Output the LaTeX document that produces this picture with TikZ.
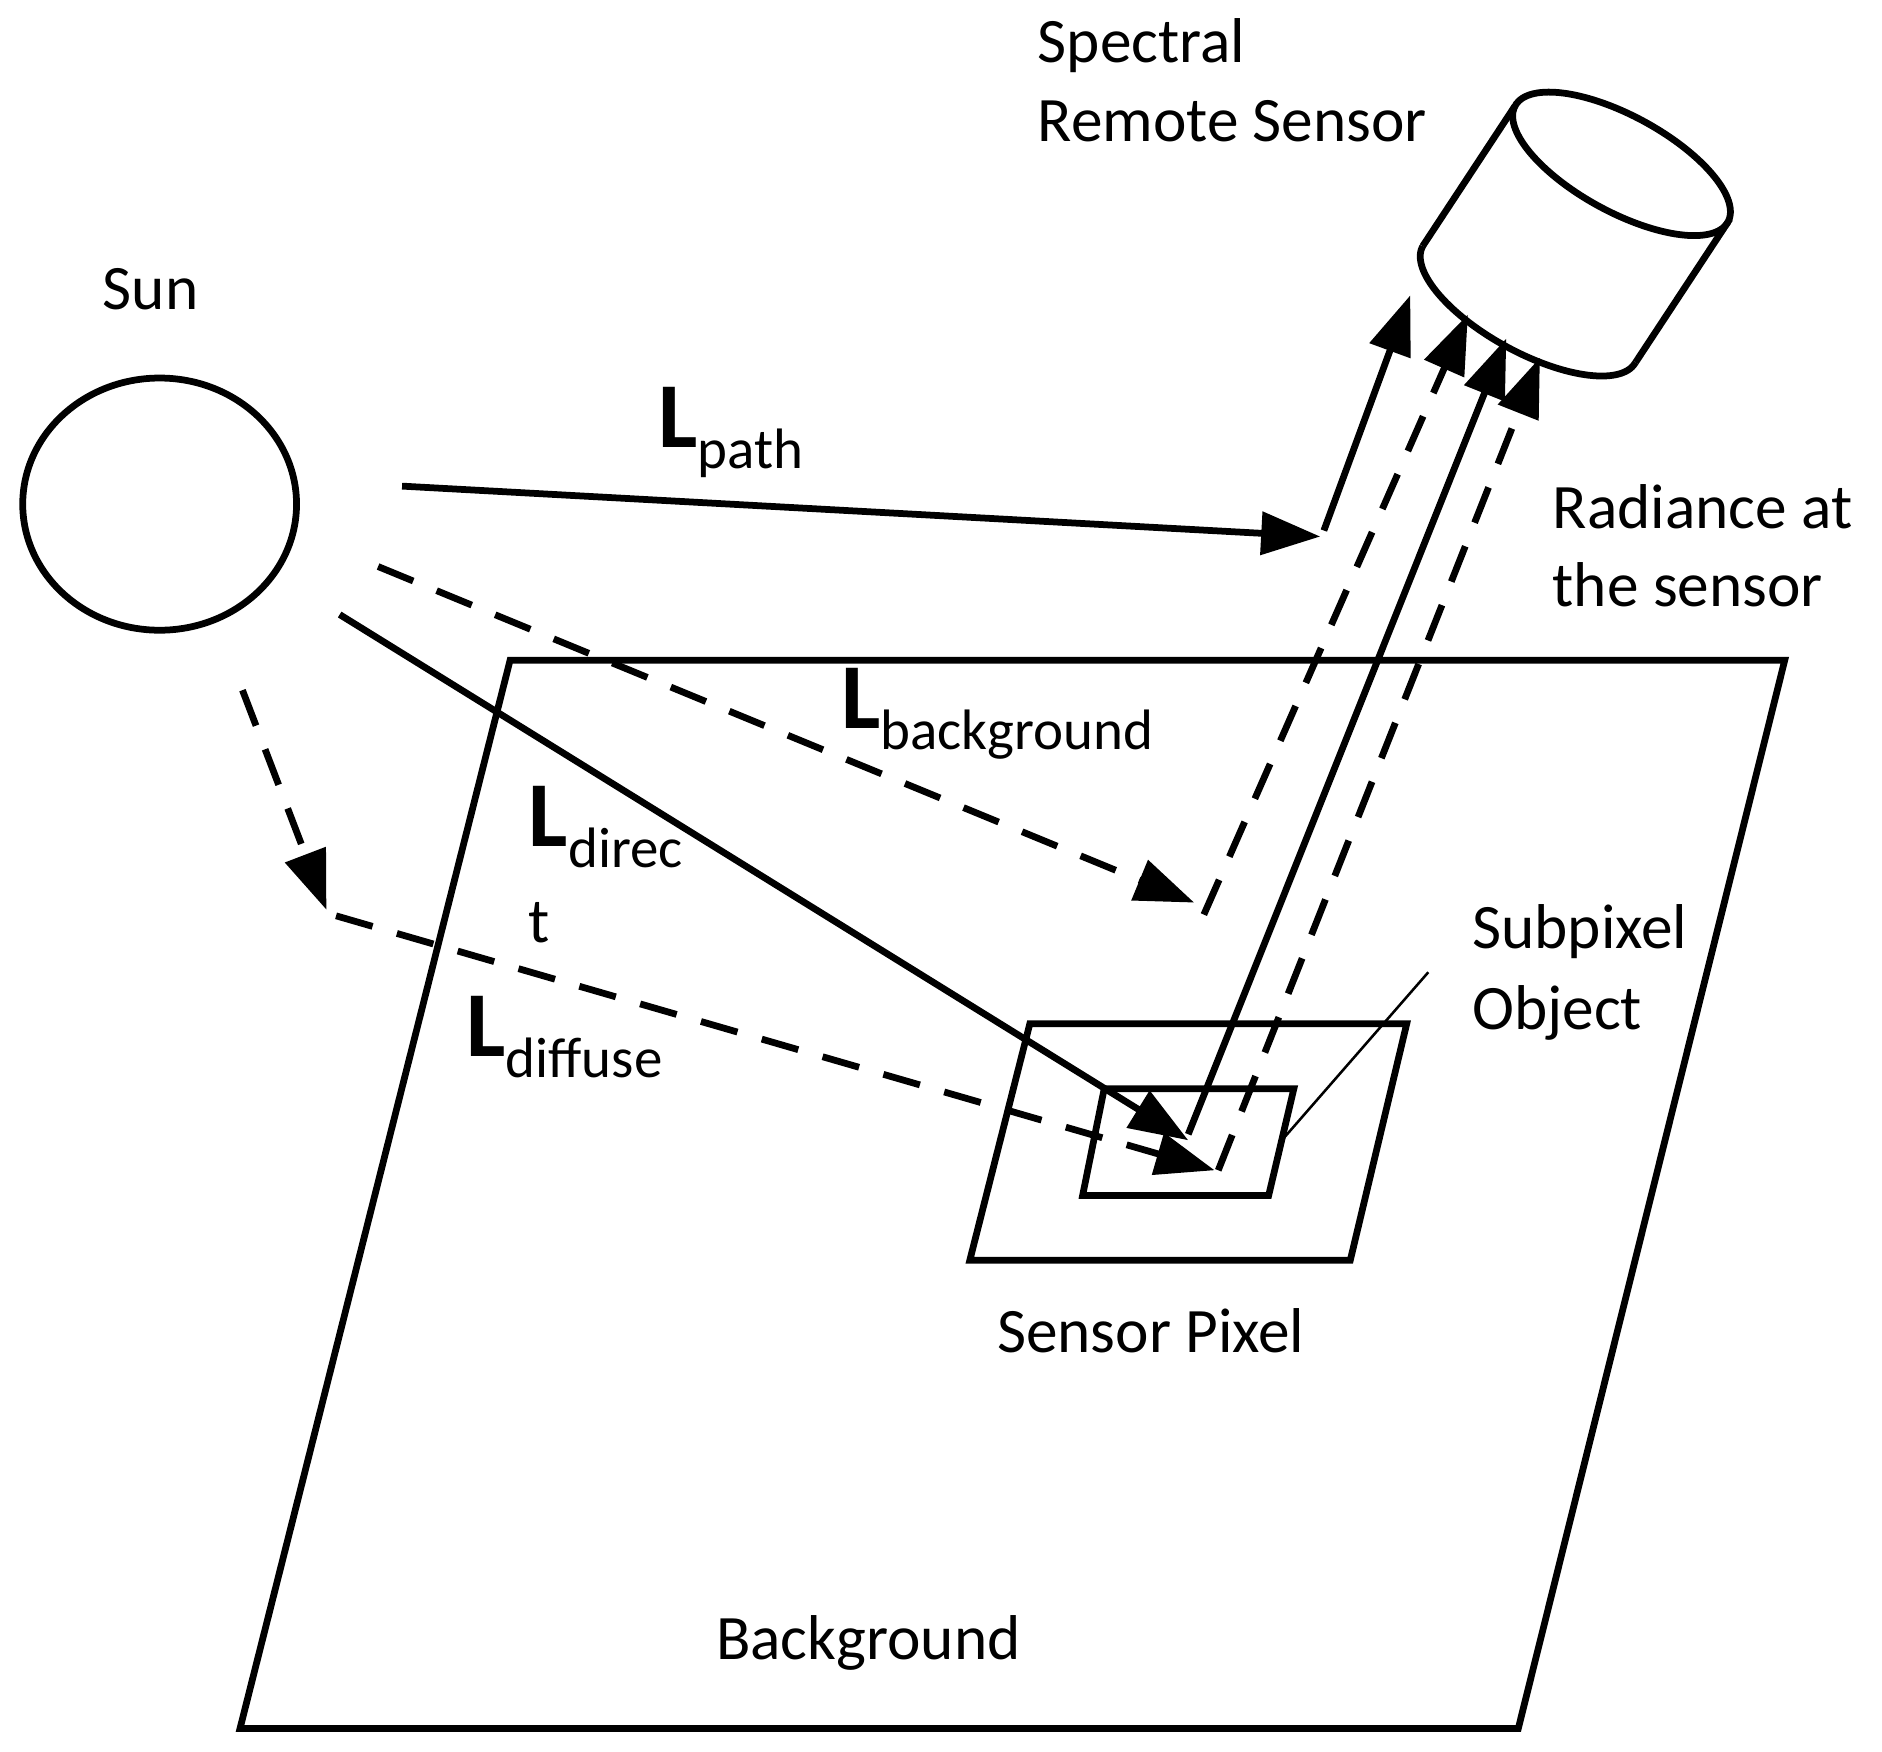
\documentclass[tikz,border=0pt]{standalone}
\usepackage{fontspec}
\setmainfont{Carlito}
\usetikzlibrary{arrows.meta,shapes.geometric}
\begin{document}
\begin{tikzpicture}[x=0.01cm,y=-0.01cm,
  ln/.style={line width=1.6pt},
  arr/.style={ln,-{Triangle[length=14pt,width=10pt]}},
  dsh/.style={dash pattern=on 9pt off 6pt},
  txt/.style={anchor=base west,inner sep=0pt,font=\fontsize{15}{17}\selectfont}]
\newcommand{\Lsub}[1]{{\bfseries\fontsize{22}{22}\selectfont L}\raisebox{-5pt}{\fontsize{13.5}{16}\selectfont #1}}
\useasboundingbox (0,0) rectangle (1568,1459);
% sun
\node[draw,ln,ellipse,minimum width=2.28cm,minimum height=2.1cm,inner sep=0pt] (sun) at (133,420) {};
\node[txt] (sunl) at (85,258) {Sun};
% background
\draw[ln] (425,550) coordinate (b1) -- (1487,550) coordinate (b2) -- (1265,1440) coordinate (b3) -- (200,1440) coordinate (b4) -- cycle;
\draw[ln] (858,853) -- (1172,853) -- (1125,1050) -- (808,1050) -- cycle;
\draw[ln] (920,907) -- (1078,907) -- (1057,996) -- (902,996) -- cycle;
\coordinate (lead1) at (1068,950); \coordinate (lead2) at (1190,810);
\draw[line width=0.6pt] (lead1) -- (lead2);
% sensor cylinder
\draw[ln,smooth,samples=72] plot[domain=0:360,variable=\t] ({1351+101*cos(\t)*0.878-40*sin(\t)*0.479},{136.5+101*cos(\t)*0.479+40*sin(\t)*0.878}) -- cycle;
\draw[ln,smooth,samples=37] plot[domain=0:180,variable=\t] ({1274+101*cos(\t)*0.878-40*sin(\t)*0.479},{253.5+101*cos(\t)*0.479+40*sin(\t)*0.878});
\draw[ln] (1262.3,88.1) -- (1185.3,205.1);
\draw[ln] (1439.7,184.9) -- (1362.7,301.9);
% arrows
\coordinate (p0) at (335,405); \coordinate (p1) at (1100,447); \coordinate (p2) at (1103,442); \coordinate (p3) at (1175,246);
\draw[arr] (p0) -- (p1); \draw[arr] (p2) -- (p3);
\coordinate (g0) at (315,472); \coordinate (g1) at (995,752); \coordinate (g2) at (1003,762); \coordinate (g3) at (1223,262);
\draw[arr,dsh] (g0) -- (g1); \draw[arr,dsh] (g2) -- (g3);
\coordinate (d0) at (283,512); \coordinate (d1) at (990,950); \coordinate (d2) at (990,945); \coordinate (d3) at (1255,282);
\draw[arr] (d0) -- (d1); \draw[arr] (d2) -- (d3);
\coordinate (f0) at (202,575); \coordinate (f1) at (272,758); \coordinate (f2) at (280,763); \coordinate (f3) at (1012,975); \coordinate (f4) at (1015,975); \coordinate (f5) at (1283,298);
\draw[arr,dsh] (f0) -- (f1); \draw[arr,dsh] (f2) -- (f3); \draw[arr,dsh] (f4) -- (f5);
% labels
\node[txt] (lp) at (548,373) {\Lsub{path}};
\node[txt] (lbg) at (700,607) {\Lsub{background}};
\node[txt] (ld) at (440,705) {\Lsub{direc}};
\node[txt] (ldt) at (440,785) {t};
\node[txt] (ldf) at (388,880) {\Lsub{diffuse}};
\node[txt] (s1) at (864,52) {Spectral};
\node[txt] (s2) at (864,118) {Remote Sensor};
\node[txt] (r1) at (1293,440) {Radiance at};
\node[txt] (r2) at (1293,505) {the sensor};
\node[txt] (o1) at (1226,790) {Subpixel};
\node[txt] (o2) at (1226,858) {Object};
\node[txt] (sp) at (830,1127) {Sensor Pixel};
\node[txt] (bg) at (596,1383) {Background};
\end{tikzpicture}
\end{document}
